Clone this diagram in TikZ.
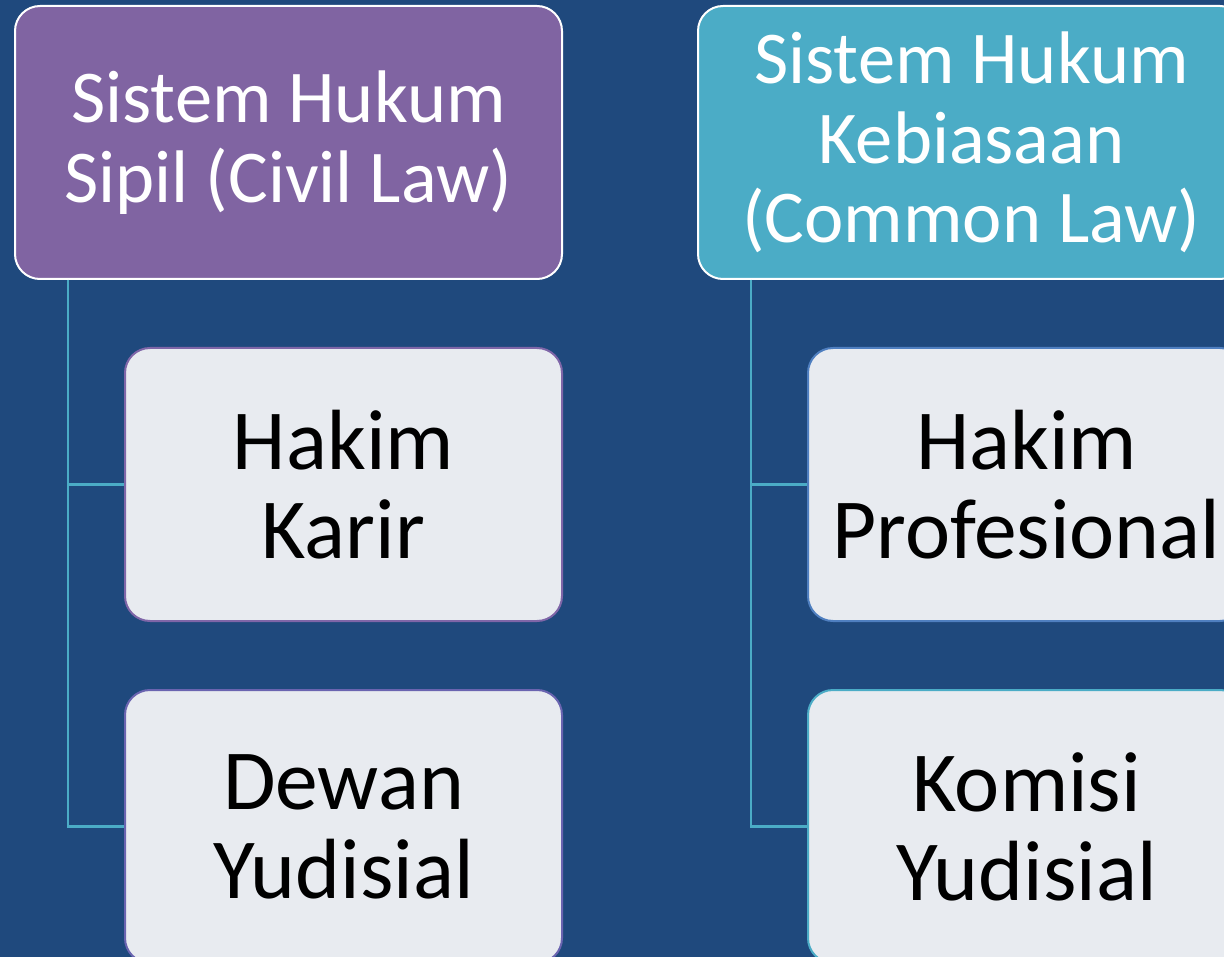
\documentclass[tikz,border=0pt]{standalone}
\usepackage{fontspec}
\setmainfont{Carlito}
\definecolor{bgblue}{HTML}{1F497D}
\definecolor{civpurple}{HTML}{8064A2}
\definecolor{comteal}{HTML}{4BACC6}
\definecolor{leafgrey}{HTML}{E8EBF0}
\definecolor{edgeA}{HTML}{7F66A8}
\definecolor{edgeB}{HTML}{6A64B0}
\definecolor{edgeC}{HTML}{4F7FC0}
\definecolor{edgeD}{HTML}{4BACC6}
\tikzset{
  headbox/.style={draw=white, line width=2pt, rounded corners=25pt,
    minimum width=547pt, minimum height=273pt, inner sep=0pt,
    text=white, align=center, font=\fontsize{74.5}{79.5}\selectfont},
  leafbox/.style={fill=leafgrey, line width=2pt, rounded corners=25pt,
    minimum width=437pt, minimum height=273pt, inner sep=0pt,
    text=black, align=center, font=\fontsize{85.5}{89}\selectfont},
  conn/.style={draw=comteal, line width=2.2pt}
}
\begin{document}
\begin{tikzpicture}[x=1pt,y=-1pt]
  \fill[bgblue] (0,0) rectangle (1224,957);
  \useasboundingbox (0,0) rectangle (1224,957);
  \clip (0,0) rectangle (1224,957);

  % top-level systems
  \node[headbox, fill=civpurple] (civ) at (288.5,142.5) {Sistem Hukum\\Sipil (Civil Law)};
  \node[headbox, fill=comteal] (com) at (971.5,142.5) {Sistem Hukum\\Kebiasaan\\(Common Law)};

  % branches
  \node[leafbox, draw=edgeA] (hk) at (343.5,484.5) {Hakim\\Karir};
  \node[leafbox, draw=edgeB] (dy) at (343.5,826.5) {Dewan\\Yudisial};
  \node[leafbox, draw=edgeC] (hp) at (1026.5,484.5) {Hakim\\Profesional};
  \node[leafbox, draw=edgeD] (ky) at (1026.5,826.5) {Komisi\\Yudisial};

  % tree connectors
  \draw[conn] ([xshift=54pt]civ.south west) |- (hk.west);
  \draw[conn] ([xshift=54pt]civ.south west) |- (dy.west);
  \draw[conn] ([xshift=54pt]com.south west) |- (hp.west);
  \draw[conn] ([xshift=54pt]com.south west) |- (ky.west);
\end{tikzpicture}
\end{document}
